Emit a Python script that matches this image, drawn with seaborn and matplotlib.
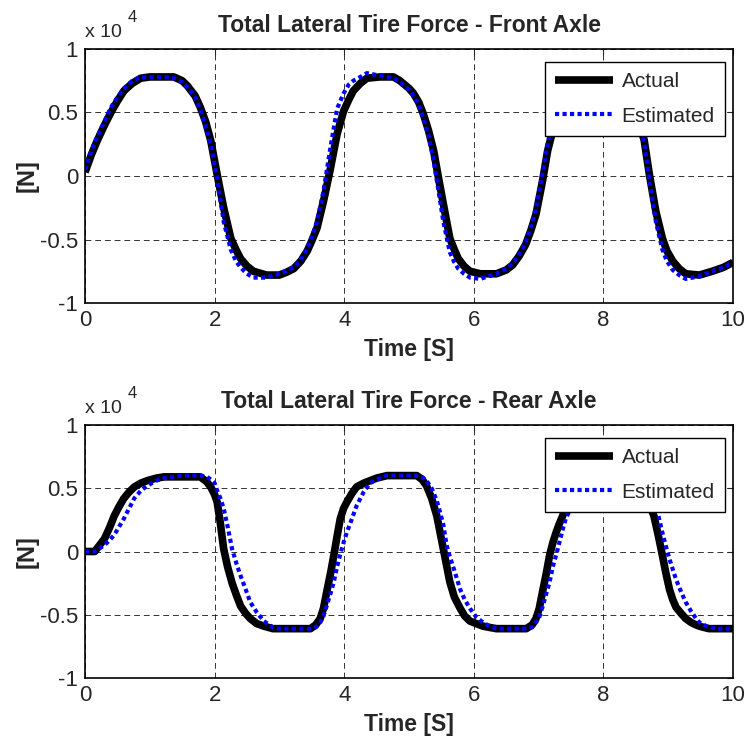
import numpy as np
import pandas as pd
import matplotlib
matplotlib.use("Agg")
import matplotlib.pyplot as plt
import seaborn as sns

# Valores (fuerza en unidades de 1e4 N)
t_front = [0, 0.1, 0.19, 0.3, 0.4, 0.5, 0.6, 0.73, 0.86, 1.0, 1.2, 1.37, 1.5, 1.58, 1.7,
           1.78, 1.86, 1.94, 2.04, 2.14, 2.25, 2.33, 2.4, 2.5, 2.6, 2.8, 3.0, 3.1, 3.22,
           3.33, 3.43, 3.5, 3.58, 3.68, 3.78, 3.89, 3.99, 4.07, 4.14, 4.25, 4.35, 4.55,
           4.76, 4.86, 5.0, 5.07, 5.15, 5.22, 5.3, 5.38, 5.45, 5.53, 5.63, 5.7, 5.76,
           5.85, 5.94, 6.1, 6.35, 6.5, 6.6, 6.7, 6.8, 6.88, 6.96, 7.06, 7.14, 7.19, 7.3,
           7.4, 7.6, 7.8, 8.1, 8.3, 8.45, 8.55, 8.63, 8.71, 8.81, 8.91, 8.98, 9.07, 9.17,
           9.27, 9.48, 9.68, 9.85, 10.0]
front_actual = [0.03, 0.17, 0.28, 0.40, 0.50, 0.59, 0.67, 0.73, 0.77, 0.78, 0.78, 0.78,
                0.75, 0.71, 0.63, 0.54, 0.43, 0.28, 0.01, -0.25, -0.49, -0.58, -0.65,
                -0.71, -0.75, -0.78, -0.78, -0.76, -0.73, -0.67, -0.59, -0.51, -0.41,
                -0.20, 0.04, 0.33, 0.51, 0.60, 0.67, 0.73, 0.77, 0.78, 0.78, 0.75, 0.69,
                0.65, 0.58, 0.49, 0.36, 0.20, 0.0, -0.22, -0.49, -0.58, -0.65, -0.71,
                -0.75, -0.77, -0.77, -0.74, -0.70, -0.63, -0.54, -0.43, -0.30, -0.04,
                0.20, 0.30, 0.50, 0.62, 0.74, 0.78, 0.78, 0.72, 0.55, 0.42, 0.28, 0.01,
                -0.28, -0.49, -0.59, -0.67, -0.73, -0.77, -0.78, -0.75, -0.72, -0.68]
front_estimated = [0.05, 0.20, 0.31, 0.43, 0.54, 0.62, 0.69, 0.75, 0.78, 0.78, 0.78, 0.77,
                   0.74, 0.70, 0.62, 0.52, 0.40, 0.25, -0.02, -0.36, -0.58, -0.67, -0.72,
                   -0.77, -0.80, -0.80, -0.77, -0.75, -0.72, -0.66, -0.57, -0.48, -0.36,
                   -0.12, 0.20, 0.53, 0.65, 0.72, 0.75, 0.78, 0.81, 0.79, 0.77, 0.74,
                   0.68, 0.63, 0.56, 0.46, 0.32, 0.12, -0.10, -0.36, -0.60, -0.68, -0.73,
                   -0.77, -0.80, -0.81, -0.77, -0.73, -0.69, -0.62, -0.52, -0.40, -0.25,
                   0.02, 0.26, 0.36, 0.55, 0.65, 0.76, 0.79, 0.78, 0.71, 0.53, 0.40, 0.26,
                   -0.03, -0.36, -0.58, -0.67, -0.74, -0.78, -0.81, -0.79, -0.75, -0.72,
                   -0.68]

t_rear = [0, 0.15, 0.3, 0.38, 0.45, 0.52, 0.6, 0.68, 0.76, 0.86, 0.96, 1.1, 1.22, 1.5,
          1.78, 1.88, 1.94, 2.0, 2.04, 2.09, 2.14, 2.2, 2.27, 2.34, 2.4, 2.48, 2.55, 2.65,
          2.76, 2.9, 3.0, 3.3, 3.48, 3.56, 3.63, 3.68, 3.73, 3.79, 3.84, 3.89, 3.94, 3.99,
          4.04, 4.12, 4.19, 4.3, 4.4, 4.5, 4.66, 5.0, 5.12, 5.2, 5.27, 5.35, 5.43, 5.48,
          5.53, 5.58, 5.63, 5.7, 5.79, 5.86, 5.94, 6.04, 6.14, 6.24, 6.35, 6.6, 6.81, 6.9,
          6.96, 7.01, 7.06, 7.12, 7.17, 7.22, 7.27, 7.32, 7.37, 7.42, 7.55, 7.7, 7.85, 8.0,
          8.3, 8.5, 8.65, 8.78, 8.85, 8.91, 8.96, 9.02, 9.07, 9.12, 9.2, 9.27, 9.35, 9.43,
          9.48, 9.55, 9.63, 9.75, 10.0]
rear_actual = [0.0, 0.0, 0.10, 0.19, 0.28, 0.35, 0.42, 0.47, 0.51, 0.54, 0.56, 0.58, 0.59,
               0.59, 0.59, 0.55, 0.51, 0.45, 0.39, 0.22, 0.02, -0.12, -0.25, -0.35, -0.43,
               -0.49, -0.53, -0.57, -0.59, -0.61, -0.61, -0.61, -0.61, -0.58, -0.53, -0.45,
               -0.32, -0.17, -0.03, 0.12, 0.26, 0.34, 0.39, 0.46, 0.51, 0.54, 0.56, 0.58,
               0.60, 0.60, 0.60, 0.57, 0.52, 0.42, 0.28, 0.15, 0.02, -0.11, -0.24, -0.36,
               -0.45, -0.51, -0.55, -0.57, -0.59, -0.60, -0.61, -0.61, -0.61, -0.58, -0.53,
               -0.45, -0.32, -0.17, -0.03, 0.07, 0.15, 0.22, 0.28, 0.35, 0.48, 0.56, 0.59,
               0.60, 0.60, 0.56, 0.45, 0.28, 0.12, -0.03, -0.16, -0.30, -0.38, -0.44, -0.49,
               -0.53, -0.56, -0.58, -0.59, -0.60, -0.61, -0.61, -0.61]
rear_estimated = [0.0, 0.0, 0.05, 0.09, 0.13, 0.19, 0.26, 0.34, 0.42, 0.48, 0.52, 0.56,
                  0.58, 0.60, 0.60, 0.59, 0.57, 0.54, 0.48, 0.42, 0.34, 0.20, 0.02, -0.10,
                  -0.19, -0.30, -0.40, -0.48, -0.55, -0.60, -0.61, -0.61, -0.61, -0.60,
                  -0.56, -0.51, -0.43, -0.33, -0.24, -0.12, -0.02, 0.07, 0.15, 0.26, 0.36,
                  0.47, 0.54, 0.57, 0.60, 0.60, 0.60, 0.59, 0.56, 0.50, 0.40, 0.31, 0.21,
                  0.05, -0.04, -0.15, -0.30, -0.38, -0.45, -0.52, -0.56, -0.59, -0.61,
                  -0.61, -0.61, -0.60, -0.56, -0.52, -0.44, -0.33, -0.24, -0.12, -0.03,
                  0.07, 0.17, 0.26, 0.40, 0.53, 0.58, 0.60, 0.60, 0.58, 0.50, 0.36, 0.28,
                  0.15, 0.05, -0.06, -0.14, -0.22, -0.32, -0.40, -0.47, -0.53, -0.56,
                  -0.58, -0.60, -0.61, -0.61]

titles = ["Total Lateral Tire Force - Front Axle", "Total Lateral Tire Force - Rear Axle"]
series = [(t_front, front_actual, front_estimated), (t_rear, rear_actual, rear_estimated)]

sns.set_style("white")
plt.rcParams['font.family'] = ['Liberation Sans', 'DejaVu Sans']

fig = plt.figure(figsize=(7.45, 7.52), dpi=100)
W, H = 745, 752
boxes = [(85, 49, 733, 303), (85, 425, 733, 678)]

for (x0, y0, x1, y1), (t, act, est), title in zip(boxes, series, titles):
    ax = fig.add_axes([x0 / W, 1 - y1 / H, (x1 - x0) / W, (y1 - y0) / H])
    df = pd.DataFrame({"t": t, "Actual": act, "Estimated": est})
    sns.lineplot(data=df, x="t", y="Actual", ax=ax, color="black", lw=5.5,
                 label="Actual", solid_capstyle="butt")
    sns.lineplot(data=df, x="t", y="Estimated", ax=ax, color="blue", lw=3,
                 linestyle=(0, (1.0, 0.8)), label="Estimated")
    ax.set_xlim(0, 10)
    ax.set_ylim(-1, 1)
    ax.set_xticks([0, 2, 4, 6, 8, 10])
    ax.set_yticks([-1, -0.5, 0, 0.5, 1])
    ax.set_yticklabels(["-1", "-0.5", "0", "0.5", "1"])
    ax.grid(True, color="black", linestyle=(0, (6, 4)), lw=0.7, alpha=0.8)
    ax.tick_params(direction="in", length=4, width=0.8, labelsize=16,
                   top=True, right=True, pad=5)
    for s in ax.spines.values():
        s.set_color("black")
        s.set_linewidth(1.2)
    ax.set_title(title, fontsize=16.5, fontweight="bold", pad=12)
    ax.set_xlabel("Time [S]", fontsize=16.5, fontweight="bold", labelpad=5)
    ax.set_ylabel("[N]", fontsize=17, fontweight="bold", labelpad=1)
    ax.text(0.0, 1.03, "x 10", transform=ax.transAxes, fontsize=14,
            ha="left", va="bottom")
    ax.text(0.066, 1.095, "4", transform=ax.transAxes, fontsize=12,
            ha="left", va="bottom")
    leg = ax.legend(loc="upper right", bbox_to_anchor=(0.988, 0.95), borderaxespad=0,
                    fontsize=15, frameon=True, fancybox=False, handlelength=2.8,
                    handletextpad=0.4, borderpad=0.5, labelspacing=0.75)
    leg.get_frame().set_edgecolor("black")
    leg.get_frame().set_linewidth(1.0)
    leg.get_frame().set_alpha(1)

fig.savefig("out.png", dpi=100)
